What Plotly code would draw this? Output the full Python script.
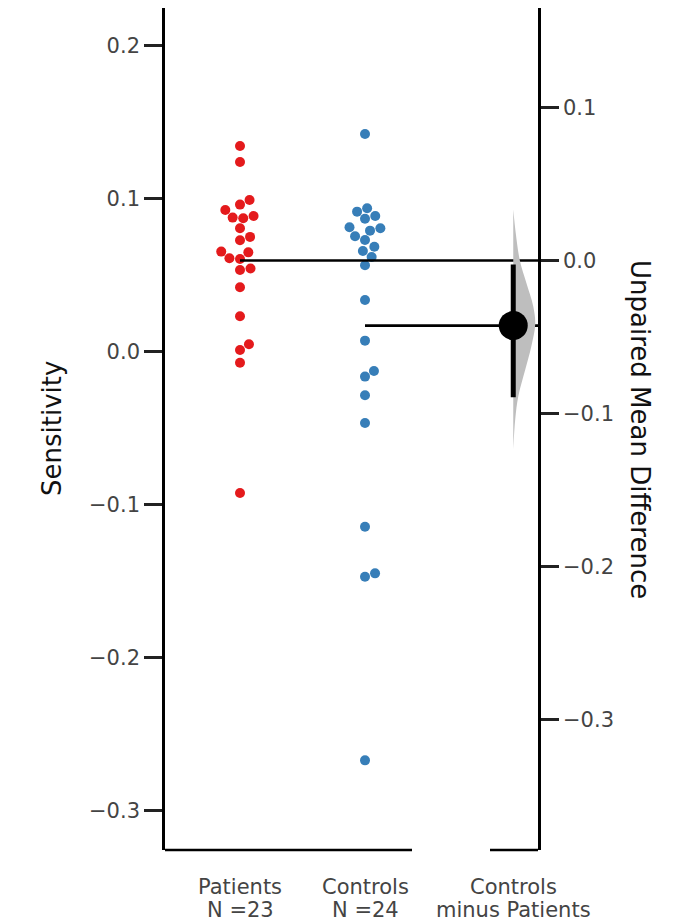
import numpy as np
import plotly.graph_objects as go

# ---------------- data ----------------
GROUP_NAMES = ["Patients", "Controls"]
PATIENTS = [0.1346, 0.1242, 0.0993, 0.0963, 0.0928, 0.0874, 0.0889, 0.0878,
            0.0808, 0.0752, 0.0730, 0.0656, 0.0651, 0.0612, 0.0608, 0.0545,
            0.0536, 0.0423, 0.0233, 0.0050, 0.0013, -0.0070, -0.0922]
CONTROLS = [0.1425, 0.0939, 0.0917, 0.0889, 0.0871, 0.0808, 0.0793, 0.0815,
            0.0756, 0.0732, 0.0688, 0.0660, 0.0621, 0.0567, 0.0340, 0.0074,
            -0.0124, -0.0161, -0.0283, -0.0464, -0.1142, -0.1447, -0.1469,
            -0.2669]
DIFF_LABEL = ["Controls", "minus Patients"]
CI_LOW, CI_HIGH = -0.0894, -0.0026
# bootstrap distribution profile (difference axis value, relative density)
BOOT_Y = [0.0333, 0.0183, 0.0, -0.0144, -0.030, -0.0417, -0.0561, -0.0711,
          -0.0887, -0.1037, -0.1233]
BOOT_DENS = [0.0, 0.11, 0.30, 0.59, 0.91, 1.0, 0.82, 0.55, 0.23, 0.09, 0.0]

LEFT_TICKS = [0.2, 0.1, 0.0, -0.1, -0.2, -0.3]
LEFT_TICK_LABELS = ["0.2", "0.1", "0.0", "\u22120.1", "\u22120.2", "\u22120.3"]
RIGHT_TICKS = [0.1, 0.0, -0.1, -0.2, -0.3]
RIGHT_TICK_LABELS = ["0.1", "0.0", "\u22120.1", "\u22120.2", "\u22120.3"]

# ---------------- layout constants ----------------
W, H = 679, 923
ML, MR, MT, MB = 165, 141, 8, 73
X_RANGE = [-0.6, 2.384]
Y_RANGE = [-0.3255, 0.2248]
DIFF_X = 2.186
VIOLIN_HALF_W = 0.176
RAW_SPINE_END = 1.376
DIFF_SPINE_START = 2.0
LABEL_LINE_SHIFTS = [-37, -60]
RED = "#e41a1c"
BLUE = "#377eb8"
FONT = "DejaVu Sans"
TICK_COLOR = "#444444"

plot_w = W - ML - MR
plot_h = H - MT - MB
px_per_x = plot_w / (X_RANGE[1] - X_RANGE[0])
px_per_y = plot_h / (Y_RANGE[1] - Y_RANGE[0])


def swarm_offsets(values, diam_px):
    vals = np.asarray(values, dtype=float)
    order = np.argsort(vals, kind="stable")
    placed = []
    offs = np.zeros(len(vals))
    for i in order:
        y = vals[i] * px_per_y
        near = [(x, yy) for x, yy in placed if abs(yy - y) < diam_px]
        cands = [0.0]
        for x, yy in near:
            dx = np.sqrt(diam_px ** 2 - (yy - y) ** 2)
            cands += [x + dx, x - dx]
        cands.sort(key=abs)
        for c in cands:
            if all((c - x) ** 2 + (yy - y) ** 2 >= diam_px ** 2 - 1e-6 for x, yy in near):
                offs[i] = c
                placed.append((c, y))
                break
    return offs / px_per_x


groups = [PATIENTS, CONTROLS]
colors = [RED, BLUE]
means = [float(np.mean(g)) for g in groups]
mean_diff = means[1] - means[0]
Y2_RANGE = [Y_RANGE[0] - means[0], Y_RANGE[1] - means[0]]

fig = go.Figure()

for gi, (vals, col) in enumerate(zip(groups, colors)):
    xs = gi + swarm_offsets(vals, 10.6)
    fig.add_trace(go.Scatter(x=xs, y=vals, mode="markers",
                             marker=dict(color=col, size=10, line=dict(width=0)),
                             showlegend=False, hoverinfo="y"))

# mean reference lines across to the difference axis
for gi, m in enumerate(means):
    fig.add_trace(go.Scatter(x=[gi, X_RANGE[1]], y=[m, m], mode="lines",
                             line=dict(color="black", width=2.6),
                             showlegend=False, hoverinfo="skip"))

# half violin of the bootstrap distribution
vx = [DIFF_X + d * VIOLIN_HALF_W for d in BOOT_DENS]
fig.add_trace(go.Scatter(x=vx, y=BOOT_Y, yaxis="y2", mode="lines",
                         fill="toself", fillcolor="#bebebe",
                         line=dict(width=0, color="#bebebe", shape="spline", smoothing=1.0),
                         showlegend=False, hoverinfo="skip"))

# CI bar and mean difference
fig.add_trace(go.Scatter(x=[DIFF_X, DIFF_X], y=[CI_LOW, CI_HIGH], yaxis="y2",
                         mode="lines", line=dict(color="black", width=5),
                         showlegend=False, hoverinfo="skip"))
fig.add_trace(go.Scatter(x=[DIFF_X], y=[mean_diff], yaxis="y2", mode="markers",
                         marker=dict(color="black", size=29, line=dict(width=0)),
                         showlegend=False, hoverinfo="y"))

# bottom spines (split)
for x0, x1 in [(X_RANGE[0], RAW_SPINE_END), (DIFF_SPINE_START, X_RANGE[1])]:
    fig.add_shape(type="line", xref="x", yref="paper", x0=x0, x1=x1, y0=0, y1=0,
                  line=dict(color="black", width=2.6))

# category labels (two lines each)
x_labels = [[n, f"N ={len(g)}"] for n, g in zip(GROUP_NAMES, groups)] + [DIFF_LABEL]
for xp, lines in zip([0, 1, DIFF_X], x_labels):
    for line_txt, ys in zip(lines, LABEL_LINE_SHIFTS):
        fig.add_annotation(x=xp, xref="x", y=0, yref="paper", yanchor="middle",
                           yshift=ys, text=line_txt, showarrow=False,
                           font=dict(family=FONT, size=21, color=TICK_COLOR))

# axis titles
fig.add_annotation(x=(35 - ML) / plot_w, xref="paper", y=0.5, yref="paper",
                   text="Sensitivity", textangle=-90, showarrow=False,
                   font=dict(family=FONT, size=26, color="#111111"))
fig.add_annotation(x=(657 - ML) / plot_w, xref="paper", y=0.5, yref="paper",
                   text="Unpaired Mean Difference", textangle=90, showarrow=False,
                   font=dict(family=FONT, size=26, color="#111111"))

axis_common = dict(showgrid=False, zeroline=False, showline=True, linecolor="black",
                   linewidth=2.6, ticks="outside", ticklen=18, tickwidth=2.6,
                   tickcolor="#222222", tickfont=dict(family=FONT, size=21, color=TICK_COLOR))

fig.update_layout(
    width=W, height=H, autosize=False,
    margin=dict(l=ML, r=MR, t=MT, b=MB),
    paper_bgcolor="white", plot_bgcolor="white",
    showlegend=False,
    xaxis=dict(range=X_RANGE, showgrid=False, zeroline=False, showline=False,
               showticklabels=False, ticks=""),
    yaxis=dict(range=Y_RANGE, tickvals=LEFT_TICKS, ticktext=LEFT_TICK_LABELS, **axis_common),
    yaxis2=dict(range=Y2_RANGE, overlaying="y", side="right", anchor="x",
                tickvals=RIGHT_TICKS, ticktext=RIGHT_TICK_LABELS, **axis_common),
)

fig.write_html(
    "out.html",
    config={"displayModeBar": False},
    post_script="document.body.style.margin='0';"
                "document.documentElement.style.overflow='hidden';",
)
